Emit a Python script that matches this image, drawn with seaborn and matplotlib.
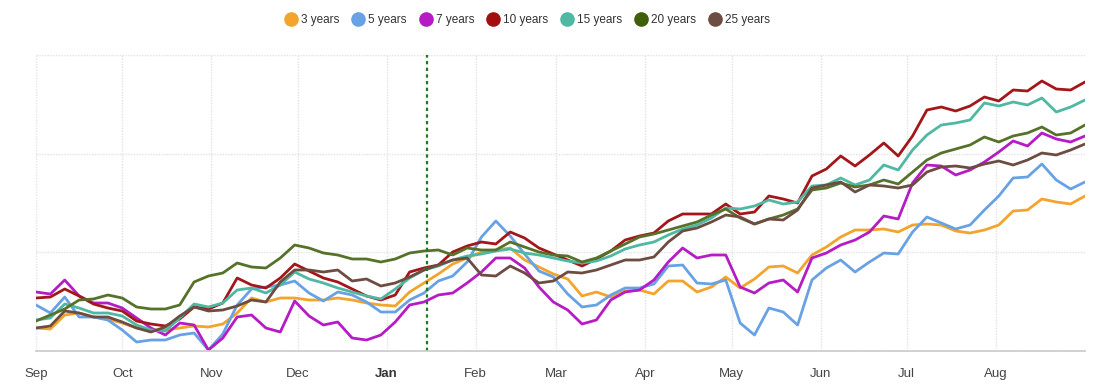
import pandas as pd
import seaborn as sns
import matplotlib.pyplot as plt
import matplotlib.dates as mdates
from matplotlib.lines import Line2D

# sampled every 5 days, Sep 1 to Sep 1 (level above the bottom gridline)
dates = pd.date_range("2022-09-01", periods=74, freq="5D")

y3 = [23, 22, 36, 38, 34, 32, 28, 23, 21, 21,
      23, 25, 24, 27, 38, 53, 49, 53, 53, 51,
      51, 53, 51, 48, 46, 45, 59, 68, 77, 87,
      93, 99, 101, 103, 91, 84, 77, 72, 55, 59,
      54, 60, 61, 57, 70, 70, 59, 64, 74, 63,
      72, 84, 85, 78, 96, 104, 114, 121, 121, 122,
      119, 126, 127, 126, 120, 118, 121, 126, 140, 141,
      152, 149, 147, 155]
y5 = [46, 38, 54, 34, 34, 31, 21, 9, 11, 11,
      16, 18, 1, 17, 46, 62, 64, 66, 70, 58,
      50, 59, 56, 49, 39, 39, 51, 58, 70, 75,
      89, 114, 130, 115, 97, 80, 74, 57, 44, 46,
      56, 63, 63, 67, 85, 86, 68, 67, 71, 28,
      16, 43, 39, 26, 71, 83, 91, 79, 89, 98,
      97, 119, 134, 128, 122, 126, 141, 155, 173, 174,
      187, 171, 162, 169]
y7 = [59, 57, 71, 55, 48, 48, 43, 33, 23, 16,
      28, 26, 1, 13, 34, 36, 23, 19, 50, 35,
      26, 29, 13, 11, 16, 29, 46, 49, 56, 58,
      68, 79, 93, 93, 83, 64, 49, 41, 27, 31,
      51, 59, 61, 71, 89, 103, 93, 96, 96, 64,
      58, 68, 71, 59, 93, 98, 106, 111, 119, 135,
      132, 168, 186, 185, 176, 181, 189, 199, 210, 205,
      218, 212, 209, 215]
y10 = [53, 54, 62, 55, 47, 43, 40, 30, 27, 25,
       32, 44, 42, 48, 73, 66, 63, 73, 87, 80,
       73, 69, 62, 55, 51, 56, 79, 83, 86, 99,
       105, 109, 107, 119, 113, 103, 97, 91, 85, 92,
       100, 111, 115, 118, 130, 137, 137, 137, 147, 137,
       139, 155, 152, 148, 175, 182, 195, 185, 196, 208,
       195, 215, 241, 244, 240, 245, 254, 250, 261, 260,
       270, 262, 261, 269]
y15 = [31, 33, 47, 43, 38, 38, 35, 26, 21, 20,
       33, 47, 44, 48, 61, 63, 58, 66, 79, 72,
       68, 63, 59, 55, 52, 62, 73, 81, 85, 91,
       95, 97, 100, 102, 98, 96, 93, 90, 88, 90,
       95, 102, 106, 109, 116, 122, 126, 133, 143, 142,
       145, 151, 147, 149, 165, 166, 173, 166, 171, 186,
       181, 201, 216, 226, 228, 231, 248, 245, 249, 246,
       253, 239, 244, 251]
y20 = [30, 36, 42, 51, 52, 56, 53, 44, 42, 42,
       46, 69, 75, 78, 88, 84, 83, 93, 106, 103,
       98, 96, 92, 92, 89, 92, 98, 100, 101, 96,
       103, 101, 101, 109, 104, 99, 96, 95, 89, 93,
       100, 107, 114, 117, 121, 125, 129, 136, 142, 133,
       127, 132, 136, 142, 161, 163, 168, 164, 166, 171,
       167, 179, 191, 198, 202, 206, 214, 209, 215, 218,
       224, 216, 218, 226]
y25 = [23, 25, 40, 38, 34, 34, 29, 23, 19, 24,
       35, 44, 40, 41, 45, 51, 49, 69, 81, 81,
       79, 81, 70, 72, 65, 68, 74, 81, 86, 91,
       93, 76, 75, 85, 78, 68, 70, 79, 78, 81,
       86, 91, 91, 94, 109, 120, 123, 129, 136, 134,
       127, 132, 131, 141, 163, 166, 169, 159, 166, 165,
       163, 166, 179, 184, 185, 183, 187, 190, 186, 191,
       198, 196, 201, 207]

tenors = ["3 years", "5 years", "7 years", "10 years", "15 years", "20 years", "25 years"]
colors = ["#f2a42c", "#68a2e4", "#b51cc4", "#a3161a", "#4fb8a3", "#56722a", "#6d4c41"]
legend_colors = ["#f2a42c", "#68a2e4", "#b51cc4", "#a30f0f", "#4fb8a3", "#3f5f0a", "#6d4c41"]
marker_date = "2023-01-15"

df = pd.DataFrame({"date": dates, "3 years": y3, "5 years": y5, "7 years": y7,
                   "10 years": y10, "15 years": y15, "20 years": y20, "25 years": y25})
df = df.melt(id_vars="date", var_name="tenor", value_name="level")

sns.set_theme(style="white")
plt.rcParams["font.family"] = ["Liberation Sans", "DejaVu Sans"]

fig = plt.figure(figsize=(11.02, 3.87), dpi=100)
ax = fig.add_axes([36 / 1102, 36 / 387, 1049 / 1102, 296 / 387])

sns.lineplot(data=df, x="date", y="level", hue="tenor", hue_order=tenors,
             palette=dict(zip(tenors, colors)), linewidth=2.0, ax=ax, legend=False)

ax.axvline(pd.Timestamp(marker_date), color="#1f7a1f", linestyle=(0, (1.5, 1.5)), linewidth=1.6)

ax.set_xlim(pd.Timestamp("2022-09-01"), pd.Timestamp("2023-09-01"))
ax.set_ylim(0, 296)
ax.set_yticks([0, 296 / 3, 2 * 296 / 3, 296])
ax.set_yticklabels([])
ax.set_xticks(pd.date_range("2022-09-01", "2023-08-01", freq="MS"))
ax.xaxis.set_major_formatter(mdates.DateFormatter("%b"))
ax.tick_params(axis="x", length=5, width=1, color="#cccccc", pad=7, labelsize=9.5, labelcolor="#444444")
ax.tick_params(axis="y", length=0)
for lab in ax.get_xticklabels():
    if lab.get_text() == "Jan":
        lab.set_fontweight("bold")
        lab.set_color("#333333")

ax.grid(True, axis="both", color="#e2e2e2", linestyle=(0, (1, 1)), linewidth=1)
for side in ["top", "right", "left"]:
    ax.spines[side].set_visible(False)
ax.spines["bottom"].set_color("#cccccc")
ax.set_xlabel("")
ax.set_ylabel("")

handles = [Line2D([], [], marker="o", linestyle="", markersize=9.5, color=c) for c in legend_colors]
fig.legend(handles, tenors, loc="center", bbox_to_anchor=(0.479, 0.948), ncol=7, frameon=False,
           handlelength=0.9, handletextpad=0.4, columnspacing=1.15, fontsize=8.5,
           labelcolor="#333333")

fig.savefig("out.png", dpi=100)
